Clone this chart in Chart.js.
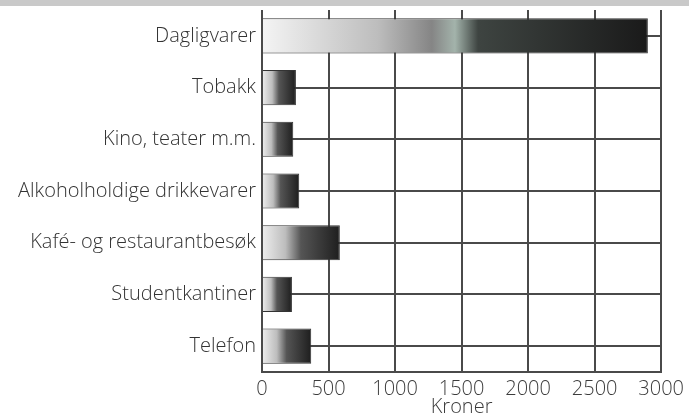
<!DOCTYPE html>
<html>
<head>
  <meta charset="utf-8">
  <title>Utgifter</title>
  <script src="https://cdn.jsdelivr.net/npm/chart.js"></script>
  <style>
    body { margin: 0; background: #fff; }
    #band { height: 6px; background: #c9c9c9; }
    #wrap { width: 689px; height: 413px; }
  </style>
</head>
<body>
  <div id="band"></div>
  <div id="wrap"><canvas id="barChart"></canvas></div>

  <script>
    const categories = ['Dagligvarer', 'Tobakk', 'Kino, teater m.m.', 'Alkoholholdige drikkevarer',
                        'Kafé- og restaurantbesøk', 'Studentkantiner', 'Telefon'];
    const kroner = [2900, 255, 235, 280, 585, 225, 370];
    const xTicks = [0, 500, 1000, 1500, 2000, 2500, 3000];

    // gradient lys -> mørk langs hver søyle
    function barFill(ctx) {
      const chart = ctx.chart;
      if (!chart.chartArea) return '#777';
      const x = chart.scales.x;
      const x0 = x.getPixelForValue(0);
      const x1 = x.getPixelForValue(ctx.raw);
      const g = chart.ctx.createLinearGradient(x0, 0, x1, 0);
      if (ctx.dataIndex === 0) {
        g.addColorStop(0, '#f4f4f4');
        g.addColorStop(0.3, '#bdbdbd');
        g.addColorStop(0.44, '#858585');
        g.addColorStop(0.5, '#a3b3ab');
        g.addColorStop(0.56, '#3e4441');
        g.addColorStop(1, '#1a1a1a');
      } else {
        g.addColorStop(0, '#eeeeee');
        g.addColorStop(0.3, '#bdbdbd');
        g.addColorStop(0.5, '#555');
        g.addColorStop(1, '#1e1e1e');
      }
      return g;
    }

    const fnt = { family: 'Open Sans', size: 20, weight: 300 };

    new Chart(document.getElementById('barChart'), {
      type: 'bar',
      data: {
        labels: categories,
        datasets: [{
          label: 'Kroner',
          data: kroner,
          backgroundColor: barFill,
          borderColor: '#333',
          borderWidth: 1,
          barPercentage: 0.68,
          categoryPercentage: 1
        }]
      },
      options: {
        indexAxis: 'y',
        responsive: true,
        maintainAspectRatio: false,
        animation: false,
        layout: { padding: { top: 4, right: 26, left: 0, bottom: 0 } },
        plugins: {
          legend: { display: false },
          tooltip: { enabled: false }
        },
        scales: {
          x: {
            min: 0,
            max: 3000,
            afterBuildTicks: s => { s.ticks = xTicks.map(v => ({ value: v })); },
            afterFit: s => { s.height = 47; },
            grid: { color: '#4a4a4a', lineWidth: 2, drawTicks: false },
            border: { color: '#4a4a4a', width: 2 },
            ticks: { color: '#3c3c3c', font: fnt, padding: 5, callback: v => String(v) },
            title: {
              display: true,
              text: 'Kroner',
              color: '#3c3c3c',
              font: fnt,
              padding: { top: 3, bottom: 0 }
            }
          },
          y: {
            afterFit: s => { s.width = 262; s.paddingTop = 0; s.paddingBottom = 0; },
            grid: { offset: false, color: '#4a4a4a', lineWidth: 2, drawTicks: false },
            border: { display: false },
            ticks: { color: '#333', font: fnt, padding: 6 }
          }
        }
      }
    });
  </script>
</body>
</html>
